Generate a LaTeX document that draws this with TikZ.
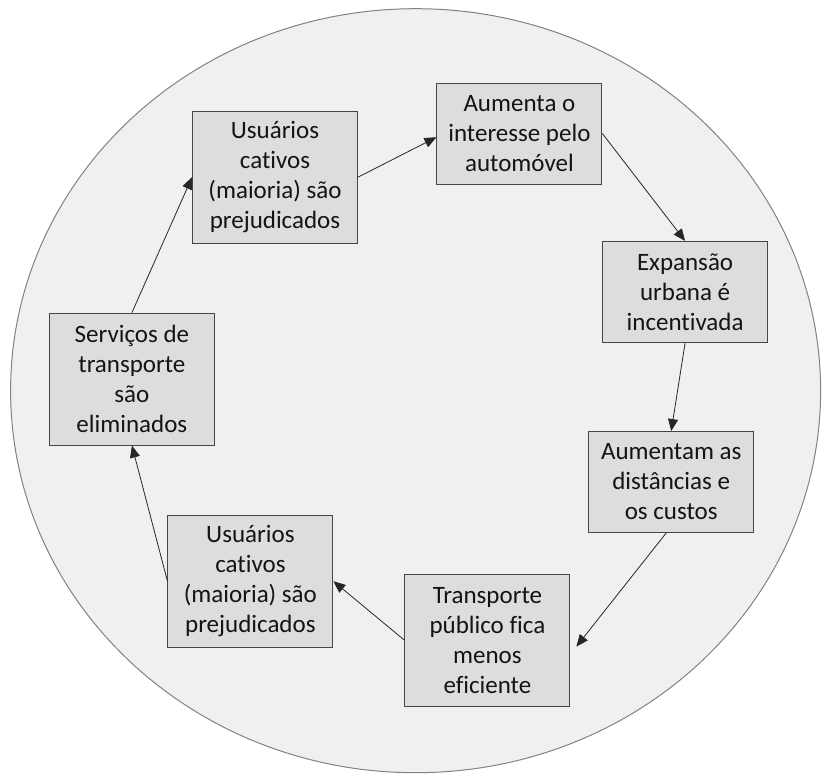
\documentclass[tikz,border=0pt]{standalone}
\usepackage{fontspec}
\setmainfont{Carlito}[Ligatures={NoCommon}]
\usetikzlibrary{arrows.meta,calc}
\definecolor{ringfill}{RGB}{240,240,240}
\definecolor{ringline}{RGB}{130,130,130}
\definecolor{boxfill}{RGB}{221,221,221}
\definecolor{boxline}{RGB}{70,70,70}
\definecolor{inktext}{RGB}{20,20,20}
\tikzset{
  stagebox/.style={draw=boxline, line width=0.9pt, fill=boxfill, text=inktext,
    align=center, inner sep=0pt, minimum width=165pt,
    font=\fontsize{25}{30}\selectfont},
  shortbox/.style={stagebox, minimum height=101pt},
  tallbox/.style={stagebox, minimum height=132pt},
  flow/.style={draw=black!85, line width=0.8pt, -{Triangle[length=12pt,width=10pt]}}
}
\begin{document}
\begin{tikzpicture}[x=1pt,y=-1pt]
  \useasboundingbox (0,0) rectangle (822,774);
  % background ring
  \draw[draw=ringline, line width=1pt, fill=ringfill] (415.6,390.7) ellipse [x radius=405, y radius=382];

  % stages of the cycle
  \node[tallbox]  (b1) at (275,177.2)   {Usuários\\cativos\\(maioria) são\\prejudicados};
  \node[shortbox] (b2) at (519.4,133.5) {Aumenta o\\interesse pelo\\automóvel};
  \node[shortbox] (b3) at (685.1,291.9) {Expansão\\urbana é\\incentivada};
  \node[shortbox] (b4) at (671.2,482)   {Aumentam as\\distâncias e\\os custos};
  \node[tallbox]  (b5) at (487.4,640.2) {Transporte\\público fica\\menos\\eficiente};
  \node[tallbox]  (b6) at (250.4,581.2) {Usuários\\cativos\\(maioria) são\\prejudicados};
  \node[tallbox]  (b7) at (131.9,379.1) {Serviços de\\transporte\\são\\eliminados};

  % connectors
  \draw[flow] (b1.east) -- ($(b2.west)+(0,3.7)$);
  \draw[flow] (b2.east) -- (b3.north);
  \draw[flow] (b3.south) -- (b4.north);
  \draw[flow] ($(b4.south)+(-5,0)$) -- ($(b5.east)+(6,6.4)$);
  \draw[flow] (b5.west) -- (b6.east);
  \draw[flow] (b6.west) -- (b7.south);
  \draw[flow] (b7.north) -- (b1.west);
\end{tikzpicture}
\end{document}
